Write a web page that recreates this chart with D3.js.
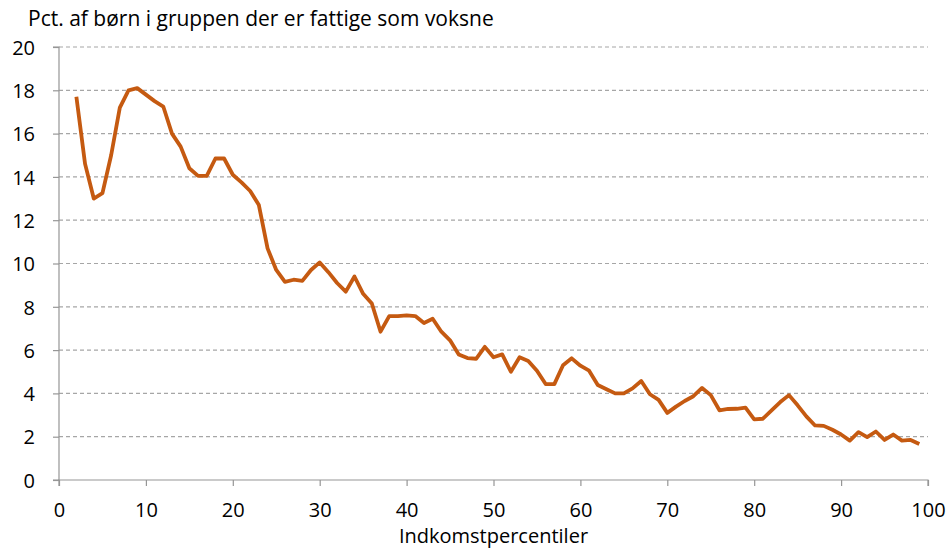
<!DOCTYPE html>
<html>
<head>
<meta charset="utf-8">
<script src="https://cdn.jsdelivr.net/npm/d3@7"></script>
<style>
  body { margin: 0; background: #fff; }
  #chart { width: 952px; height: 549px; }
  text { font-family: "Open Sans", Lato, sans-serif; fill: #000; }
</style>
</head>
<body>
<div id="chart"></div>
<script>
// percentiles 2..99
const percentiles = d3.range(2, 100);
const poorShare = [
  17.7, 14.6, 13.0, 13.25, 15.0, 17.2, 18.0, 18.1, 17.8, 17.5,
  17.25, 16.0, 15.4, 14.4, 14.05, 14.05, 14.85, 14.85, 14.1, 13.75,
  13.35, 12.7, 10.7, 9.7, 9.15, 9.25, 9.2, 9.7, 10.05, 9.6,
  9.1, 8.7, 9.4, 8.6, 8.15, 6.85, 7.57, 7.57, 7.6, 7.57,
  7.25, 7.45, 6.85, 6.45, 5.8, 5.63, 5.6, 6.15, 5.67, 5.8,
  5.0, 5.67, 5.5, 5.05, 4.43, 4.43, 5.3, 5.62, 5.28, 5.05,
  4.39, 4.19, 4.0, 4.0, 4.23, 4.57, 3.96, 3.7, 3.1, 3.39,
  3.65, 3.87, 4.25, 3.92, 3.22, 3.28, 3.29, 3.34, 2.8, 2.83,
  3.22, 3.6, 3.92, 3.45, 2.94, 2.52, 2.5, 2.32, 2.1, 1.82,
  2.21, 1.98, 2.24, 1.85, 2.1, 1.82, 1.85, 1.66
];
const xTicks = d3.range(0, 101, 10);
const yTicks = d3.range(0, 21, 2);
const yTitle = "Pct. af børn i gruppen der er fattige som voksne";
const xTitle = "Indkomstpercentiler";

const data = percentiles.map((p, i) => ({p: p, v: poorShare[i]}));

function drawChart(container){
    const width = 952, height = 549,
          margin = {top: 47, right: 24, bottom: 69, left: 59},
          innerWidth = width - margin.left - margin.right,
          innerHeight = height - margin.top - margin.bottom;

    const svg = d3.select(container).append('svg')
        .attr('width', width)
        .attr('height', height);

    const viz = svg.append('g')
        .attr('transform', `translate(${margin.left},${margin.top})`);

    const x = d3.scaleLinear().domain([0, 100]).range([0, innerWidth]);
    const y = d3.scaleLinear().domain([0, 20]).range([innerHeight, 0]);

    // dashed gridlines
    viz.append('g').classed('grid', true)
        .selectAll('line')
        .data(yTicks.filter(d => d > 0))
        .enter().append('line')
        .attr('x1', 0)
        .attr('x2', innerWidth)
        .attr('y1', d => y(d))
        .attr('y2', d => y(d))
        .attr('stroke', '#a6a6a6')
        .attr('stroke-width', 1.2)
        .attr('stroke-dasharray', '4,3');

    const yAxis = d3.axisLeft(y)
        .tickValues(yTicks)
        .tickSize(6)
        .tickFormat(d3.format('d'));

    const xAxis = d3.axisBottom(x)
        .tickValues(xTicks)
        .tickSize(6)
        .tickFormat(d3.format('d'));

    const gy = viz.append('g').call(yAxis);
    const gx = viz.append('g')
        .attr('transform', `translate(0,${innerHeight})`)
        .call(xAxis);

    [gx, gy].forEach(g => {
        g.select('.domain').attr('stroke', '#969696').attr('stroke-width', 1.2);
        g.selectAll('.tick line').attr('stroke', '#969696').attr('stroke-width', 1.2);
        g.selectAll('.tick text')
            .style('font-size', '20px')
            .style('font-family', '"Open Sans", Lato, sans-serif')
            .attr('fill', '#000');
    });
    gy.select('.domain').attr('d', `M-6,${innerHeight}H0V0H-6`);
    gx.select('.domain').attr('d', `M0,6V0H${innerWidth}V6`);
    gy.selectAll('.tick text').attr('text-anchor', 'end').attr('x', -24).attr('dy', '0.36em');
    gx.selectAll('.tick text').attr('y', 37).attr('dy', 0);

    const line = d3.line()
        .x(d => x(d.p))
        .y(d => y(d.v));

    viz.append('path')
        .datum(data)
        .attr('d', line)
        .attr('fill', 'none')
        .attr('stroke', '#c55a11')
        .attr('stroke-width', 3.8)
        .attr('stroke-linejoin', 'round');

    svg.append('text')
        .attr('x', 28)
        .attr('y', 26)
        .style('font-size', '21px')
        .text(yTitle);

    svg.append('text')
        .attr('x', margin.left + innerWidth / 2)
        .attr('y', 543)
        .attr('text-anchor', 'middle')
        .style('font-size', '20px')
        .text(xTitle);
}

drawChart('#chart');
</script>
</body>
</html>
